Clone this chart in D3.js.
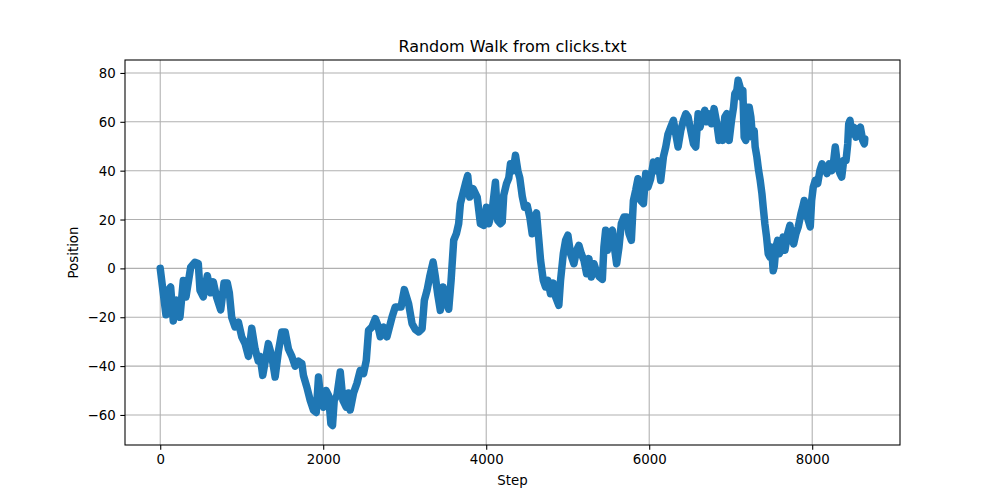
<!DOCTYPE html>
<html>
<head>
<meta charset="utf-8">
<script src="https://cdn.jsdelivr.net/npm/d3@7"></script>
<style>
  html, body { margin: 0; padding: 0; background: #ffffff; }
  svg { display: block; font-family: "DejaVu Sans", sans-serif; }
</style>
</head>
<body>
<svg id="chart" width="1000" height="500"></svg>
<script>
// ---- data ----
const steps = [0, 70, 98, 128, 160, 202, 242, 283, 316, 374, 426, 467, 488, 528, 578, 619, 651, 693, 742, 783, 823, 848, 877, 918, 959, 1000, 1041, 1082, 1123, 1164, 1204,
  1225, 1258, 1327, 1369, 1410, 1450, 1492, 1533, 1573, 1615, 1655, 1696, 1738, 1757, 1799, 1840, 1880, 1914, 1942, 1971, 2003, 2036, 2065, 2094, 2114, 2135, 2168, 2209, 2242, 2282, 2311, 2331, 2372, 2414, 2454, 2495, 2528, 2556, 2598, 2639, 2667, 2700, 2741, 2782,
  2844, 2884, 2955, 2995, 3048, 3090, 3130, 3171, 3213, 3241, 3274, 3306, 3348, 3376, 3404, 3437, 3471, 3499, 3540, 3569, 3601, 3634, 3662, 3683, 3724, 3745, 3773, 3798, 3839, 3889, 3929, 3970, 4003, 4031, 4073, 4113, 4142, 4175,
  4196, 4215, 4249, 4277, 4298, 4331, 4359, 4388, 4412, 4442, 4470, 4503, 4535, 4564, 4584, 4617, 4646, 4667, 4700, 4728, 4756, 4789, 4823, 4851, 4891, 4912, 4946, 4974, 5002, 5035, 5076, 5109, 5137, 5167, 5199, 5232, 5260, 5290, 5322, 5355, 5388,
  5425, 5444, 5465, 5486, 5518, 5548, 5567, 5600, 5629, 5658, 5690, 5723, 5752, 5781, 5806, 5834, 5862, 5895, 5929, 5957, 5985, 6018, 6052, 6080, 6108, 6141, 6174, 6203, 6231, 6264, 6297, 6326, 6354, 6387, 6420, 6449, 6477, 6510, 6543, 6571, 6600, 6624, 6654, 6682, 6707, 6735, 6764, 6796, 6830, 6858,
  6879, 6900, 6928, 6952, 6981, 7010, 7035, 7051, 7075, 7091, 7116, 7133, 7149, 7165, 7186, 7207, 7227, 7247, 7268, 7288, 7300, 7321, 7342, 7362, 7383, 7399, 7419, 7440, 7460, 7481, 7502, 7521, 7534, 7555, 7576, 7595, 7616, 7644, 7665, 7698, 7727, 7748, 7772, 7800, 7829, 7862, 7883, 7902, 7923, 7952, 7976, 7993, 8013, 8038, 8067, 8095, 8120, 8148, 8181, 8210, 8239, 8264, 8283, 8313, 8341, 8362, 8387, 8415, 8436, 8448, 8464, 8481, 8510, 8538, 8566, 8591, 8620, 8640, 8645];
const positions = [0, -19, -9, -7.6, -21.5, -13, -20, -5, -11.7, 0.5, 2.5, 2, -9, -11.7, -3, -10, -5.5, -12, -17, -6, -6, -10, -20, -24, -22, -28, -30.8, -36, -24.5, -33, -38,
  -36, -43.8, -30.8, -36, -44.5, -34, -26, -26, -33, -36, -40, -38, -39, -43.8, -48.6, -54, -58, -59, -44.5, -54, -56.8, -50, -52, -63.6, -64.3, -54, -52, -42.4, -54, -56.8, -51, -58, -51, -47, -41.8, -43, -37.7, -25.4, -24, -20.6, -23, -28, -24, -28,
  -20, -15.8, -15.8, -8.7, -14.5, -22.6, -25, -26, -24.7, -13, -9, -3.5, 2.6, -3.5, -10.4, -17.2, -7.6, -13, -16.7, -4.9, 11.5, 14.2, 18.3, 26.5, 31.9, 34.7, 38, 29.2, 32.6, 29.2, 18.3, 17.6, 25, 18.3, 23.6, 35.3, 19.6, 18.3,
  19, 30, 34.7, 37, 42.8, 40, 46.3, 40, 37, 29.5, 25, 25.7, 21, 14.2, 20, 22.7, 11.5, 3.3, -4.9, -7.6, -4.9, -10.4, -6, -11.7, -15.1, -4.9, 6, 11.5, 13.6, 6, 1.9, 7.4, 9.4, 6, 3.3, -2.2, 4, -3.5, 1.9, -1.5, -3.5,
  -4.5, 8.7, 15.6, 7.4, 14.2, 15.6, 10, 1.9, 8.7, 18.3, 21, 21, 14.2, 11.5, 27.8, 32, 36.7, 27.8, 26.5, 38.8, 33.3, 36.7, 43.5, 40, 44, 36, 45.6, 49.7, 55, 57.8, 60.6, 55, 49.7, 56.4, 60.6, 63.3, 62, 56.4, 51, 49.7, 63.3, 57.8, 62, 64.7, 60, 63.3, 59.2, 65.4, 59.2, 52.4,
  57.8, 52.4, 62, 63.3, 52.4, 60.6, 66, 71.5, 72.8, 77, 74, 70, 72.8, 53.7, 52.4, 66, 66, 62, 53.7, 56.4, 49.7, 45.6, 40.1, 36, 30.6, 25, 18.3, 12.8, 6, 4.6, 8.7, -1, 0.7, 8.7, 11.5, 6, 7.4, 12.8, 7.4, 14.2, 17.6, 12.8, 10, 14.2, 17, 22.4, 25, 27.8, 23.6, 19.6, 17, 27.8, 33.3, 36, 34.7, 40.1, 42.8, 41.5, 38.8, 42.8, 40, 44.2, 49.7, 41.5, 38.8, 37.4, 44.2, 44.2, 51, 59.2, 60.6, 55, 57.8, 53.7, 56.4, 57.8, 52.4, 51, 53];
const xTicks = [0, 2000, 4000, 6000, 8000];
const yTicks = [-60, -40, -20, 0, 20, 40, 60, 80];
const titleText = "Random Walk from clicks.txt";
const xLabel = "Step";
const yLabel = "Position";

// ---- layout ----
const W = 1000, H = 500;
const m = { left: 125, right: 900, top: 60, bottom: 445 };
const svg = d3.select("#chart");

const lastStep = steps[steps.length - 1];
const x = d3.scaleLinear().domain([-0.05 * lastStep, 1.05 * lastStep]).range([m.left, m.right]);
const y = d3.scaleLinear().domain([-72.3, 85.3]).range([m.bottom, m.top]);

// grid
const grid = svg.append("g");
grid.selectAll("line.gx").data(xTicks).enter().append("line")
  .attr("x1", d => x(d)).attr("x2", d => x(d)).attr("y1", m.top).attr("y2", m.bottom)
  .attr("stroke", "#b0b0b0").attr("stroke-width", 1.07);
grid.selectAll("line.gy").data(yTicks).enter().append("line")
  .attr("y1", d => y(d)).attr("y2", d => y(d)).attr("x1", m.left).attr("x2", m.right)
  .attr("stroke", "#b0b0b0").attr("stroke-width", 1.07);

// data line (thick to mimic the dense '.' markers)
const data = steps.map((s, i) => [s, positions[i]]);
svg.append("defs").append("clipPath").attr("id", "clip").append("rect")
  .attr("x", m.left).attr("y", m.top).attr("width", m.right - m.left).attr("height", m.bottom - m.top);
const plot = svg.append("g").attr("clip-path", "url(#clip)");
plot.append("path").datum(data)
  .attr("d", d3.line().x(d => x(d[0])).y(d => y(d[1])))
  .attr("fill", "none").attr("stroke", "#1f77b4").attr("stroke-width", 7.5)
  .attr("stroke-linejoin", "round").attr("stroke-linecap", "round");

// axes
const xAxis = d3.axisBottom(x).tickValues(xTicks).tickFormat(d3.format("d")).tickSize(4.67).tickPadding(4.67);
const yAxis = d3.axisLeft(y).tickValues(yTicks).tickFormat(d3.format("d")).tickSize(4.67).tickPadding(4.67);
const gx = svg.append("g").attr("transform", `translate(0,${m.bottom})`).call(xAxis);
const gy = svg.append("g").attr("transform", `translate(${m.left},0)`).call(yAxis);
[gx, gy].forEach(g => {
  g.select(".domain").remove();
  g.selectAll(".tick line").attr("stroke", "#000").attr("stroke-width", 1.07);
  g.selectAll(".tick text").attr("fill", "#000").style("font-size", "13.33px").style("font-family", "DejaVu Sans, sans-serif");
});
gy.selectAll(".tick text").attr("dy", "0.34em");
gx.selectAll(".tick text").attr("dy", "0.76em");

// frame
svg.append("rect").attr("x", m.left).attr("y", m.top).attr("width", m.right - m.left).attr("height", m.bottom - m.top)
  .attr("fill", "none").attr("stroke", "#000").attr("stroke-width", 1.07);

// labels
svg.append("text").attr("x", (m.left + m.right) / 2).attr("y", 52).attr("text-anchor", "middle")
  .style("font-size", "16px").text(titleText);
svg.append("text").attr("x", (m.left + m.right) / 2).attr("y", 485).attr("text-anchor", "middle")
  .style("font-size", "13.33px").text(xLabel);
svg.append("text").attr("transform", `translate(78,${(m.top + m.bottom) / 2}) rotate(-90)`).attr("text-anchor", "middle")
  .style("font-size", "13.33px").text(yLabel);
</script>
</body>
</html>
